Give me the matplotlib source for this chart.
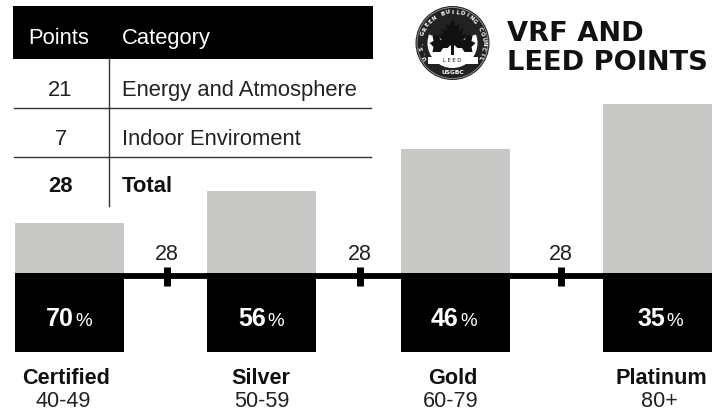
import numpy as np
import matplotlib
matplotlib.use('Agg')
import matplotlib.pyplot as plt
from matplotlib.patches import Circle, Polygon, Rectangle, Wedge

levels = ['Certified', 'Silver', 'Gold', 'Platinum']
ranges = ['40-49', '50-59', '60-79', '80+']
percents = ['70', '56', '46', '35']
vrf_points = [28, 28, 28, 28]
bar_totals = [45.7, 57.1, 72.0, 88.0]
gap_labels = ['28', '28', '28']
table_points = ['21', '7', '28']
table_categories = ['Energy and Atmosphere', 'Indoor Enviroment', 'Total']

BODY = 'Liberation Sans'
TITLE = 'DejaVu Sans'
GRAY = '#c8c8c6'
INK = '#222222'

fig = plt.figure(figsize=(7.2, 4.11), dpi=100)
# chart axes: x in pixels, y in points with baseline at pixel row 352
k = 2.82
ax = fig.add_axes([0, 0, 1, 1])
ax.set_xlim(0, 720)
ax.set_ylim(-(411 - 352) / k, 352 / k)
ax.axis('off')

centers = [69.5, 261.5, 455.5, 657.5]
width = 109
ax.bar(centers, bar_totals, width=width, color=GRAY, zorder=1)
ax.bar(centers, vrf_points, width=width, color='black', zorder=3)
ax.plot([centers[0], centers[-1]], [vrf_points[0] - 1.0] * 2, color='black', lw=4.2,
        solid_capstyle='butt', zorder=2)

for xg, lab in zip([166.5, 359.5, 560.5], gap_labels):
    ax.plot([xg, xg], [23.4, 30.2], color='black', lw=5, solid_capstyle='butt', zorder=2)
    ax.text(xg, 32.7, lab, ha='center', va='baseline', fontsize=15.5, family=BODY, color=INK)

# overlay in pixel coordinates (origin top-left)
px = fig.add_axes([0, 0, 1, 1], facecolor='none')
px.set_xlim(0, 720)
px.set_ylim(411, 0)
px.axis('off')

label_x = [66, 261, 453, 661]
range_x = [63.5, 262, 451, 659]
pct_x = [46, 238, 431, 637]
for lx, rx, qx, lev, rng, pct in zip(label_x, range_x, pct_x, levels, ranges, percents):
    px.text(lx, 384, lev, ha='center', va='baseline', fontsize=15.6, family=BODY,
            weight='bold', color='#111111')
    px.text(rx, 407, rng, ha='center', va='baseline', fontsize=15.6, family=BODY, color=INK)
    px.text(qx, 326, pct, ha='left', va='baseline', fontsize=18, family=BODY,
            weight='bold', color='white', zorder=5)
    px.text(qx + 29, 326, '%', ha='left', va='baseline', fontsize=13.5, family=BODY,
            color='white', zorder=5)

# table
px.add_patch(Rectangle((13, 6), 360, 53, color='black', lw=0))
px.text(59, 44, 'Points', ha='center', va='baseline', fontsize=15.8, family=BODY, color='white')
px.text(122, 44, 'Category', ha='left', va='baseline', fontsize=15.8, family=BODY, color='white')
px.plot([108.5, 108.5], [59, 206], color='#333333', lw=1)
for yy in (108, 157):
    px.plot([14, 371], [yy, yy], color='#333333', lw=1)
for yy, p, cat in zip((96, 145, 192), table_points, table_categories):
    bold = cat == 'Total'
    px.text(60.5, yy, p, ha='center', va='baseline', fontsize=15.8, family=BODY,
            weight='bold' if bold else 'normal', color='#111111' if bold else INK)
    px.text(122, yy, cat, ha='left', va='baseline', fontsize=15.8, family=BODY,
            weight='bold' if bold else 'normal', color='#111111' if bold else INK)

# title
px.text(507, 41, 'VRF AND', ha='left', va='baseline', fontsize=19.6, family=TITLE, weight='bold', color='#111111')
px.text(507, 70, 'LEED POINTS', ha='left', va='baseline', fontsize=19.6, family=TITLE, weight='bold', color='#111111')

# logo
cx, cy, R = 452.5, 43, 37
px.add_patch(Circle((cx, cy), R, color='#222222', lw=0, zorder=4))
px.add_patch(Circle((cx, cy), R - 1.5, fc='none', ec='#999999', lw=0.6, zorder=5))
px.add_patch(Circle((cx, cy), 25, color='white', lw=0, zorder=5))
px.add_patch(Wedge((cx, cy), 25.5, 200, 340, color='#222222', lw=0, zorder=6))
px.add_patch(Rectangle((cx - 25, cy + 14), 50, 7, color='white', lw=0, zorder=7))
leaf = [(0, -24), (3, -17), (7, -19), (6, -12), (11, -15), (9, -8), (14, -10), (11, -3), (15, -2),
        (10, 5), (5, 5), (1.5, 2), (1.5, 12), (-1.5, 12), (-1.5, 2), (-5, 5), (-10, 5), (-15, -2),
        (-11, -3), (-14, -10), (-9, -8), (-11, -15), (-6, -12), (-7, -19), (-3, -17)]
px.add_patch(Polygon([(cx + a, cy + b) for a, b in leaf], color='#111111', lw=0, zorder=8))
for side in (-1, 1):
    oak = [(side * 8, 3), (side * 15, -8), (side * 20, -7), (side * 19, -2), (side * 23, 0),
           (side * 19, 4), (side * 20, 9), (side * 12, 9)]
    px.add_patch(Polygon([(cx + a, cy + b) for a, b in oak], color='#111111', lw=0, zorder=7))
ring = 'U.S. GREEN BUILDING COUNCIL'
angs = np.linspace(-118, 118, len(ring))
for ch, a in zip(ring, angs):
    r = np.radians(a)
    px.text(cx + 31 * np.sin(r), cy - 31 * np.cos(r), ch, ha='center', va='center',
            fontsize=4.1, family='DejaVu Sans', weight='bold', color='white', rotation=-a,
            rotation_mode='anchor', zorder=9)
px.text(cx, cy + 17.5, 'L E E D', ha='center', va='center', fontsize=3.8, family='DejaVu Sans', color='#111111', zorder=9)
px.text(cx, cy + 29, 'USGBC', ha='center', va='center', fontsize=4.3, family='DejaVu Sans', weight='bold', color='white', zorder=9)

fig.savefig('out.png', dpi=100)
